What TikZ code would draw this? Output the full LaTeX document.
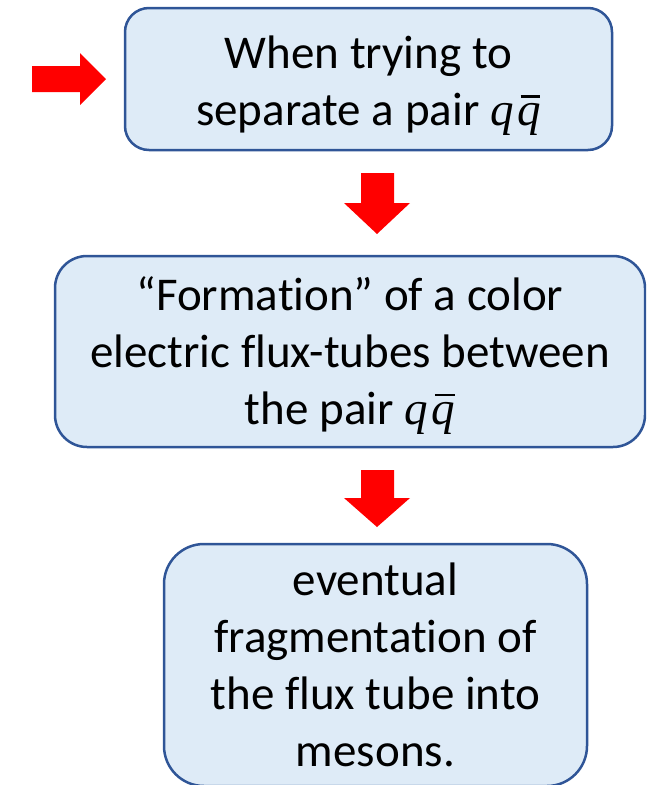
\documentclass[tikz,border=0pt]{standalone}
\usepackage{fontspec}
\setmainfont{Carlito}[Ligatures=CommonOff]
\newfontfamily\qfont{Liberation Serif}
\usetikzlibrary{calc}
\definecolor{boxfill}{HTML}{DEEBF7}
\definecolor{boxline}{HTML}{2F5597}
\definecolor{arrowred}{HTML}{FF0000}
% italic q and q with a bar over it
\newcommand\quarkq{{\qfont\itshape q}}
\newcommand\quarkqbar{\hbox{\qfont\itshape\rlap{\hspace{0.07em}\rule[0.6em]{0.42em}{0.05em}}q}}
\newcommand\qpair{\quarkq\kern0.08em\quarkqbar}
\begin{document}
\begin{tikzpicture}[x=1pt,y=-1pt,
  stagebox/.style={draw=boxline, fill=boxfill, line width=2.5pt, inner sep=0pt},
  stagetext/.style={font=\fontsize{47}{57}\selectfont, align=center, inner sep=0pt},
  blockarrow/.style={fill=arrowred, draw=none}]
\useasboundingbox (0,0) rectangle (646,785);
\clip (0,0) rectangle (646,785);

% the three stages
\node[stagebox, rounded corners=24pt, minimum width=487pt, minimum height=142pt] (b1) at (368.5,79) {};
\node[stagebox, rounded corners=32pt, minimum width=590pt, minimum height=191pt] (b2) at (350,351.5) {};
\node[stagebox, rounded corners=40pt, minimum width=423pt, minimum height=242pt] (b3) at (375.5,665) {};

\node[stagetext] (t1) at ($(b1.center)+(0,7)$) {When trying to\\separate a pair \qpair};
\node[stagetext] (t2) at ($(b2.center)+(0,4)$) {“Formation” of a color\\electric flux-tubes between\\the pair \qpair};
\node[stagetext] (t3) at ($(b3.center)+(0,0)$) {eventual\\fragmentation of\\the flux tube into\\mesons.};

% block arrows
\fill[blockarrow] (32,66) -- (80,66) -- (80,53) -- (106,79) -- (80,105) -- (80,92) -- (32,92) -- cycle;
\fill[blockarrow] (361,173) -- (394,173) -- (394,203) -- (410,203) -- (377,234) -- (344,203) -- (361,203) -- cycle;
\fill[blockarrow] (361,470) -- (394,470) -- (394,498) -- (410,498) -- (377,527) -- (344,498) -- (361,498) -- cycle;
\end{tikzpicture}
\end{document}
